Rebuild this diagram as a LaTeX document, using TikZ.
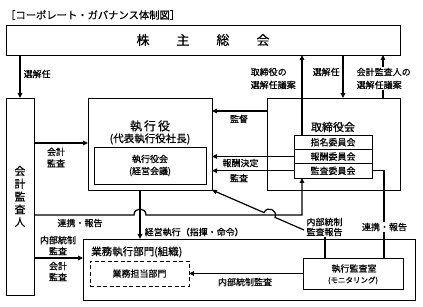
\documentclass[tikz,border=0pt]{standalone}
\usepackage{fontspec}
\setmainfont{Noto Sans CJK JP}[FakeBold=0.5]
\usetikzlibrary{arrows.meta,calc}
\tikzset{
  box/.style={draw=black,line width=0.9pt,inner sep=0pt,outer sep=0pt,fill=white},
  lbl/.style={inner sep=0.5pt,font=\fontsize{9}{11}\selectfont,align=center},
  conn/.style={line width=1.2pt},
  arr/.style={conn,-{Triangle[length=5pt,width=4.5pt]}},
}
\begin{document}
\begin{tikzpicture}[x=1pt,y=-1pt]
\useasboundingbox[fill=white] (0,0) rectangle (423,307);

% title
\node[anchor=west,inner sep=0pt,font=\fontsize{10.3}{12}\selectfont] (title) at (5,15) {［コーポレート・ガバナンス体制図］};

% boxes
\node[box,minimum width=394pt,minimum height=30pt,font=\fontsize{13}{13}\selectfont] (soukai) at (203,40) {株\hspace{27pt}主\hspace{27pt}総\hspace{27pt}会};
\node[box,minimum width=28pt,minimum height=197pt,align=center,font=\fontsize{11}{12.8}\selectfont] (kansanin) at (20,196.5) {会\\計\\監\\査\\人};

\node[box,minimum width=124pt,minimum height=92pt] (shikkou) at (150,144) {};
\node[inner sep=0pt,font=\fontsize{12}{12}\selectfont] (shikkoutitle) at (150,126) {執\hspace{2pt}行\hspace{2pt}役};
\node[inner sep=0pt,font=\fontsize{10.5}{12}\selectfont] (shikkousub) at (150,139) {(代表執行役社長)};
\node[box,minimum width=112pt,minimum height=37pt,align=center,font=\fontsize{9}{12}\selectfont] (kaigi) at (150,165.5) {執行役会\\(経営会議)};

\node[box,minimum width=133pt,minimum height=92pt] (torishimari) at (333.5,144) {};
\node[inner sep=0pt,font=\fontsize{11}{12}\selectfont] (toritle) at (333,127) {取締役会};
\node[box,minimum width=78pt,minimum height=14.33pt,font=\fontsize{9}{10}\selectfont] (c1) at (333,142.2) {指名委員会};
\node[box,minimum width=78pt,minimum height=14.33pt,font=\fontsize{9}{10}\selectfont] (c2) at (333,156.5) {報酬委員会};
\node[box,minimum width=78pt,minimum height=14.33pt,font=\fontsize{9}{10}\selectfont] (c3) at (333,170.8) {監査委員会};

\node[box,minimum width=332pt,minimum height=61pt] (gyomu) at (249,269.5) {};
\node[anchor=west,inner sep=0pt,font=\fontsize{10.5}{12}\selectfont] (gyomutitle) at (91,252) {業務執行部門(組織)};
\node[box,dash pattern=on 4pt off 2.5pt,minimum width=99pt,minimum height=25pt,font=\fontsize{9}{10}\selectfont] (tantou) at (139.5,273.5) {業務担当部門};
\node[box,minimum width=100pt,minimum height=31pt] (kansashitsu) at (353,273.5) {};
\node[inner sep=0pt,font=\fontsize{9}{10}\selectfont] (kstitle) at (354,268.5) {執行監査室};
\node[inner sep=0pt,font=\fontsize{7.5}{9}\selectfont] (kssub) at (353,280.5) {(モニタリング)};

% helper coordinates
\coordinate (xa) at (302,0);
\coordinate (xb) at (343,0);
\coordinate (xc) at (383,0);
\coordinate (xd) at (384,0);
\coordinate (xe) at (140,0);
\coordinate (xf) at (325,0);
\coordinate (ya) at (0,143);
\coordinate (yb) at (0,111);
\coordinate (yc) at (0,215);
\coordinate (yd) at (0,258);
\coordinate (h1) at (134,215);
\coordinate (h1a) at (134,207);
\coordinate (h1b) at (146,207);
\coordinate (h2) at (146,215);
\coordinate (d0) at (304,230);
\coordinate (p1) at (275,217.4);
\coordinate (q1) at (278.2,210.1);
\coordinate (q2) at (267.2,205.3);
\coordinate (p2) at (264,212.6);

% connectors
\draw[arr] (soukai.south -| kansanin) -- (kansanin.north);
\draw[arr] (c1.north -| xa) -- (soukai.south -| xa);
\draw[arr] (soukai.south -| xb) -- (torishimari.north -| xb);
\draw[arr] (torishimari.north -| xc) -- (soukai.south -| xc);
\draw[arr] (kansanin.east |- ya) -- (shikkou.west |- ya);
\draw[arr] (torishimari.west |- yb) -- (shikkou.east |- yb);
\draw[arr] (c2.west) -- (shikkou.east |- c2.west);
\draw[arr] (c3.west) -- (shikkou.east |- c3.west);
\draw[conn] (c3.east) -| (kansashitsu.north -| xd);
\draw[arr] (shikkou.south -| xe) -- (gyomu.north -| xe);
\draw[arr] (kansanin.east |- yc) -- (h1) .. controls (h1a) and (h1b) .. (h2) -| (c3.south -| xa);
\draw[arr] (kansanin.east |- yd) -- (gyomu.west |- yd);
\draw[arr] (kansashitsu.west) -- (tantou.east);

% labels
\node[lbl,anchor=west] (l1) at (23,74) {選解任};
\node[lbl,anchor=west,align=left,font=\fontsize{9}{13}\selectfont] (l2) at (250,78.5) {取締役の\\選解任議案};
\node[lbl,anchor=west] (l3) at (312,72) {選解任};
\node[lbl,anchor=west,align=left,fill=white,font=\fontsize{9}{13}\selectfont] (l4) at (356,78.5) {会計監査人の\\選解任議案};
\node[lbl] (l5) at (239,119) {監督};
\node[lbl] (l6) at (240.5,163) {報酬決定};
\node[lbl] (l7) at (239,178) {監査};
\node[lbl,font=\fontsize{9}{11.5}\selectfont] (l8) at (56,157.5) {会計\\監査};
\node[lbl] (l9) at (80,223) {連携・報告};
\node[lbl,anchor=west] (l10) at (144,232) {経営執行（指揮・命令）};
\node[lbl] (l11) at (58,245.5) {内部統制\\監査};
\node[lbl] (l12) at (58,271.5) {会計\\監査};
\node[lbl,align=left,font=\fontsize{9}{10}\selectfont] (rep) at (324.5,227) {内部統制\\監査報告};
\node[lbl,fill=white] (l14) at (384.5,227) {連携・報告};
\node[lbl] (l15) at (245,282) {内部統制監査};

\draw[conn] (kansashitsu.north -| xf) -- (rep.south -| xf);
\draw[arr] (d0) -- (p1) .. controls (q1) and (q2) .. (p2) -- (shikkou.south east);
\end{tikzpicture}
\end{document}
